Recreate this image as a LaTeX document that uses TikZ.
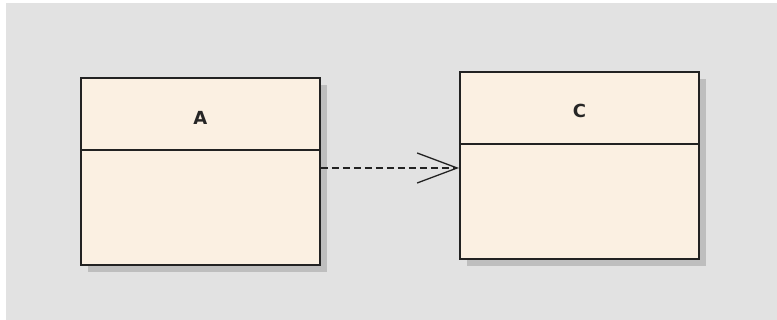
\documentclass[tikz,border=0pt]{standalone}
\usepackage{fontspec}
\setmainfont{DejaVu Sans}
\usetikzlibrary{positioning, arrows.meta, shadows}
\definecolor{canvas}{HTML}{E2E2E2}
\definecolor{classfill}{HTML}{FBF0E2}
\definecolor{classline}{HTML}{222222}
\definecolor{shade}{HTML}{BEBEBE}
\tikzset{
  classbox/.style={draw=classline, line width=1.8pt, fill=classfill, minimum width=239pt,
    minimum height=187pt, inner sep=0pt,
    drop shadow={shadow xshift=7pt, shadow yshift=-7pt, fill=shade, opacity=1}},
  classname/.style={font=\fontsize{18}{18}\selectfont\bfseries, text=black!85},
  divider/.style={draw=classline, line width=1.6pt},
  dependency/.style={dash pattern=on 7pt off 4pt, line width=1.2pt, draw=classline,
    -{Straight Barb[length=40pt, width=30pt, line width=1.3pt]}}
}
\begin{document}
\begin{tikzpicture}[x=1pt, y=1pt]
  % canvas
  \fill[white] (0,0) rectangle (777,320);
  \fill[canvas] (6,0) rectangle (777,317);
  \useasboundingbox (0,0) rectangle (777,320);
  % class A
  \node[classbox, anchor=north west] (A) at (80,243) {};
  \draw[divider] ([yshift=-73pt]A.north west) -- ([yshift=-73pt]A.north east);
  \node[classname, below=31pt of A.north] (Aname) {A};
  % class C
  \node[classbox, anchor=north west] (C) at (459,249) {};
  \draw[divider] ([yshift=-73pt]C.north west) -- ([yshift=-73pt]C.north east);
  \node[classname, below=30pt of C.north] (Cname) {C};
  % dependency
  \draw[dependency] (A.east |- 0,152) -- (C.west |- 0,152);
\end{tikzpicture}
\end{document}
